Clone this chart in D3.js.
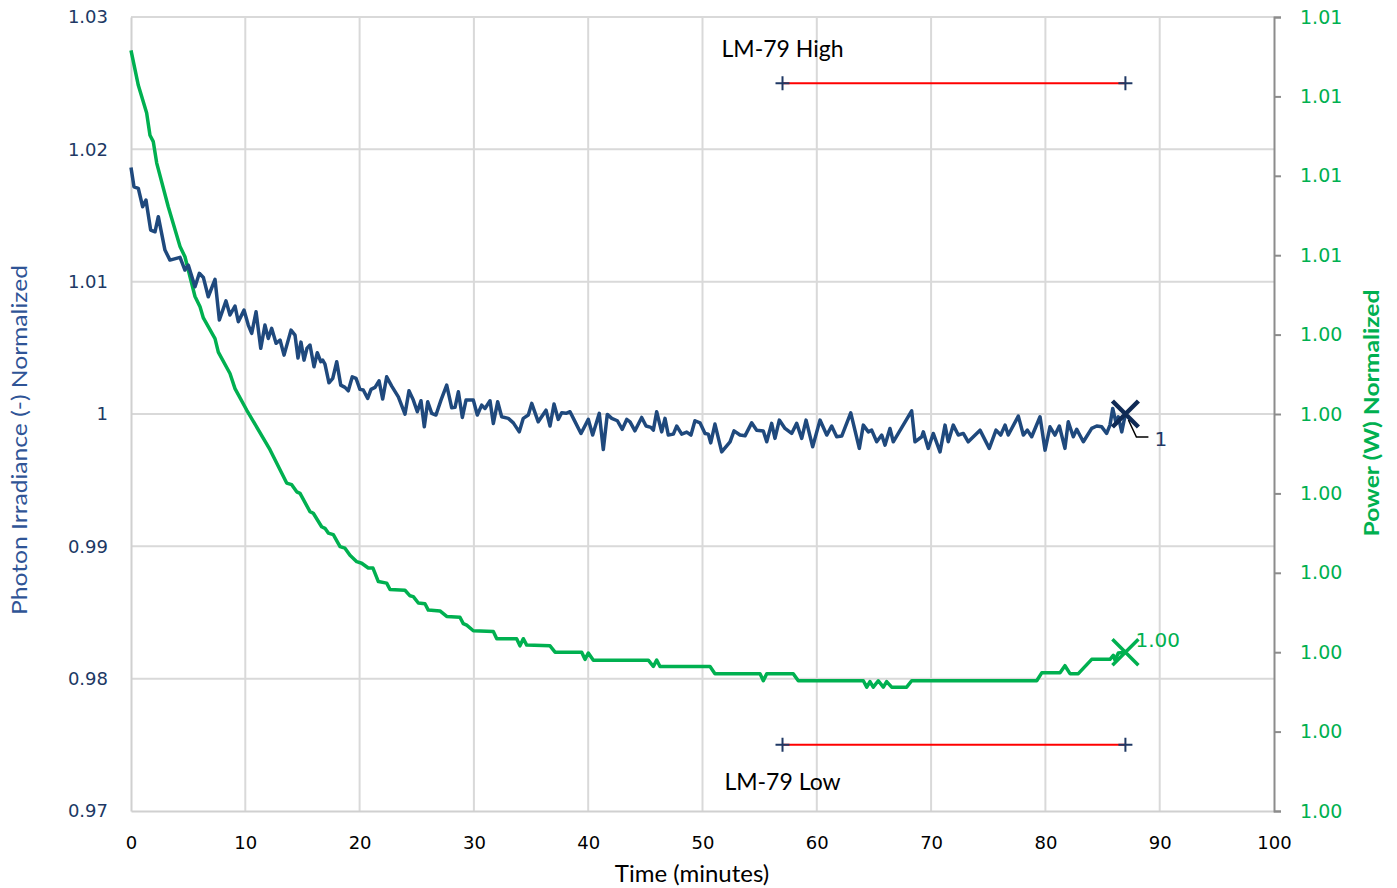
<!DOCTYPE html>
<html>
<head>
<meta charset="utf-8">
<script src="https://cdn.jsdelivr.net/npm/d3@7/dist/d3.min.js"></script>
<style>
    body { margin: 0; background: #ffffff; }
    #graphDiv { width: 1397px; height: 888px; }
</style>
</head>
<body>
<div id="graphDiv"></div>
<script>
// Photon irradiance (left axis) - time in minutes, value normalized
var blueTime = [0, 0.26, 0.64, 1.02, 1.31, 1.72, 2.10, 2.39, 2.97, 3.41,
    4.29, 4.72, 5.01, 5.60, 5.98, 6.33, 6.76, 7.35, 7.73, 8.31,
    8.66, 9.10, 9.39, 9.89, 10.26, 10.56, 10.94, 11.35, 11.72, 12.01,
    12.31, 12.69, 13.04, 13.39, 14.00, 14.35, 14.61, 14.87, 15.14, 15.40,
    15.66, 16.01, 16.30, 16.60, 16.77, 16.97, 17.32, 17.65, 18.00, 18.35,
    18.72, 19.01, 19.36, 19.69, 20.03, 20.32, 20.71, 21.00, 21.35, 21.70,
    22.02, 22.37, 22.81, 23.39, 23.97, 24.32, 24.70, 25.05, 25.37, 25.66,
    25.96, 26.31, 26.68, 27.12, 27.62, 28.06, 28.35, 28.64, 28.99, 29.31,
    29.95, 30.30, 30.68, 30.97, 31.41, 31.70, 32.08, 32.43, 33.01, 33.45,
    33.97, 34.32, 34.76, 35.06, 35.63, 36.31, 36.66, 37.01, 37.38, 37.68,
    38.06, 38.41, 38.78, 39.37, 40.01, 40.39, 40.97, 41.32, 41.67, 42.06,
    42.55, 42.98, 43.37, 43.66, 44.09, 44.68, 45.06, 45.49, 45.70, 45.99,
    46.43, 46.72, 47.01, 47.45, 47.74, 48.18, 48.62, 48.99, 49.34, 49.78,
    50.22, 50.51, 50.72, 51.09, 51.68, 52.41, 52.76, 53.28, 53.72, 54.30,
    54.74, 55.32, 55.62, 56.05, 56.34, 56.72, 57.22, 57.80, 58.24, 58.68,
    59.06, 59.64, 60.28, 60.87, 61.30, 61.74, 62.18, 62.97, 63.72, 64.07,
    64.51, 64.80, 65.24, 65.68, 65.97, 66.40, 66.69, 67.13, 68.30, 68.59,
    69.18, 69.32, 69.75, 70.19, 70.78, 71.22, 71.50, 71.94, 72.38, 72.82,
    73.25, 74.28, 75.09, 75.68, 76.09, 76.47, 76.75, 77.63, 78.07, 78.42,
    78.80, 79.53, 79.97, 80.40, 80.84, 81.22, 81.71, 82.00, 82.44, 82.74,
    83.32, 84.05, 84.49, 84.93, 85.36, 85.65, 85.89, 86.18, 86.38, 86.68,
    87];
var blueIrradiance = [1.01862, 1.01717, 1.01705, 1.01566, 1.01617, 1.01390, 1.01377, 1.01491, 1.01239, 1.01163,
    1.01184, 1.01088, 1.01125, 1.00961, 1.01063, 1.01032, 1.00886, 1.01017, 1.00710, 1.00855,
    1.00748, 1.00816, 1.00697, 1.00785, 1.00672, 1.00609, 1.00772, 1.00496, 1.00672, 1.00571,
    1.00647, 1.00534, 1.00559, 1.00445, 1.00634, 1.00596, 1.00423, 1.00543, 1.00407, 1.00498,
    1.00521, 1.00357, 1.00463, 1.00395, 1.00407, 1.00377, 1.00236, 1.00269, 1.00395, 1.00218,
    1.00201, 1.00175, 1.00281, 1.00269, 1.00186, 1.00181, 1.00118, 1.00186, 1.00201, 1.00251,
    1.00113, 1.00281, 1.00211, 1.00130, 0.99999, 1.00175, 1.00105, 1.00017, 1.00100, 0.99903,
    1.00092, 1.00005, 0.99992, 1.00105, 1.00218, 1.00047, 1.00050, 1.00168, 0.99974, 1.00105,
    1.00105, 0.99992, 1.00067, 1.00042, 1.00100, 0.99929, 1.00092, 0.99979, 0.99967, 0.99933,
    0.99865, 0.99967, 0.99992, 1.00080, 0.99941, 1.00029, 0.99909, 1.00075, 0.99959, 1.00009,
    1.00005, 1.00017, 0.99954, 0.99853, 0.99959, 0.99841, 1.00005, 0.99732, 0.99997, 0.99967,
    0.99949, 0.99884, 0.99959, 0.99941, 0.99873, 0.99974, 0.99909, 0.99899, 0.99878, 1.00017,
    0.99865, 0.99967, 0.99841, 0.99848, 0.99909, 0.99848, 0.99863, 0.99841, 0.99949, 0.99933,
    0.99853, 0.99848, 0.99782, 0.99924, 0.99714, 0.99790, 0.99873, 0.99841, 0.99835, 0.99933,
    0.99878, 0.99871, 0.99790, 0.99929, 0.99816, 0.99954, 0.99891, 0.99853, 0.99929, 0.99816,
    0.99954, 0.99752, 0.99954, 0.99841, 0.99909, 0.99828, 0.99833, 1.00009, 0.99740, 0.99916,
    0.99865, 0.99878, 0.99790, 0.99841, 0.99765, 0.99891, 0.99790, 0.99853, 1.00024, 0.99790,
    0.99828, 0.99865, 0.99740, 0.99853, 0.99714, 0.99916, 0.99790, 0.99916, 0.99841, 0.99853,
    0.99790, 0.99878, 0.99740, 0.99878, 0.99841, 0.99916, 0.99841, 0.99984, 0.99841, 0.99878,
    0.99828, 0.99979, 0.99727, 0.99903, 0.99841, 0.99909, 0.99740, 0.99941, 0.99828, 0.99884,
    0.99790, 0.99891, 0.99909, 0.99903, 0.99853, 0.99916, 1.00042, 0.99933, 0.99979, 0.99865,
    1.00000];

// Power (right axis)
var greenTime = [0, 0.64, 1.37, 1.66, 1.95, 2.25, 3.26, 4.29, 4.72, 5.60,
    6.04, 6.33, 7.35, 7.64, 8.66, 9.10, 10.12, 12.16, 13.62, 14.06,
    14.50, 14.79, 15.66, 15.95, 16.68, 16.97, 17.26, 17.70, 18.29, 18.72,
    19.16, 19.75, 20.18, 20.76, 21.17, 21.64, 22.37, 22.66, 23.97, 24.41,
    24.70, 25.14, 25.72, 26.01, 27.03, 27.62, 28.78, 29.07, 29.37, 29.95,
    31.70, 32.00, 33.74, 34.03, 34.32, 34.62, 36.66, 37.10, 39.43, 39.72,
    40.01, 40.45, 45.26, 45.70, 45.99, 46.28, 50.66, 51.09, 55.03, 55.32,
    55.62, 57.94, 58.38, 64.07, 64.37, 64.65, 64.94, 65.38, 65.82, 66.11,
    66.55, 67.86, 68.30, 79.24, 79.68, 81.28, 81.71, 82.15, 82.88, 84.05,
    85.65, 85.94, 86.09, 86.38, 87];
var greenPower = [1.00758, 1.00714, 1.00679, 1.00651, 1.00643, 1.00616, 1.00561, 1.00511, 1.00498, 1.00448,
    1.00435, 1.00421, 1.00395, 1.00378, 1.00351, 1.00332, 1.00305, 1.00255, 1.00213, 1.00211,
    1.00202, 1.00200, 1.00177, 1.00175, 1.00158, 1.00156, 1.00150, 1.00148, 1.00133, 1.00131,
    1.00122, 1.00114, 1.00112, 1.00106, 1.00106, 1.00089, 1.00087, 1.00079, 1.00078, 1.00071,
    1.00070, 1.00062, 1.00061, 1.00053, 1.00052, 1.00045, 1.00044, 1.00036, 1.00034, 1.00027,
    1.00026, 1.00017, 1.00017, 1.00008, 1.00017, 1.00009, 1.00008, 1.00000, 1.00000, 0.99991,
    0.99999, 0.99990, 0.99990, 0.99982, 0.99990, 0.99982, 0.99982, 0.99973, 0.99973, 0.99964,
    0.99973, 0.99973, 0.99964, 0.99964, 0.99956, 0.99963, 0.99956, 0.99964, 0.99956, 0.99963,
    0.99956, 0.99956, 0.99964, 0.99964, 0.99974, 0.99974, 0.99983, 0.99973, 0.99973, 0.99991,
    0.99991, 0.99996, 0.99990, 0.99999, 1.00000];

// LM-79 limits
var lm79Time = [57, 87];
var lm79High = [1.025, 1.025];
var lm79Low = [0.975, 0.975];

// last point labels
var lastTime = 87;
var lastIrradiance = 1;
var lastPower = 1.000;

// ticks
var xTicks = [0, 10, 20, 30, 40, 50, 60, 70, 80, 90, 100];
var leftTicks = [0.97, 0.98, 0.99, 1, 1.01, 1.02, 1.03];
var leftTickLabels = ['0.97', '0.98', '0.99', '1', '1.01', '1.02', '1.03'];
var rightTicks = [0.998, 0.999, 1.000, 1.001, 1.002, 1.003, 1.004, 1.005, 1.006, 1.007, 1.008];
var rightTickLabels = ['1.00', '1.00', '1.00', '1.00', '1.00', '1.00', '1.00', '1.01', '1.01', '1.01', '1.01'];

var BLUE = '#1f497d', GREEN = '#00b050', NAVY = '#1f3864';

var svg = d3.select('#graphDiv').append('svg')
    .attr('width', 1397)
    .attr('height', 888);

var pl = 131, pr = 1274, pt = 17, pb = 811;

var xScale = d3.scaleLinear().domain([0, 100]).range([pl, pr]);
var yLeft = d3.scaleLinear().domain([0.97, 1.03]).range([pb, pt]);
var yRight = d3.scaleLinear().domain([0.998, 1.008]).range([pb, pt]);

// gridlines
var grid = svg.append('g').attr('class', 'grid');
grid.selectAll('line.v')
    .data(xTicks.slice(1, -1))
    .enter().append('line')
    .attr('x1', function (d) { return xScale(d); })
    .attr('x2', function (d) { return xScale(d); })
    .attr('y1', pt).attr('y2', pb)
    .attr('stroke', '#d9d9d9').attr('stroke-width', 2);
grid.selectAll('line.h')
    .data(leftTicks.slice(1))
    .enter().append('line')
    .attr('x1', pl).attr('x2', pr)
    .attr('y1', function (d) { return yLeft(d); })
    .attr('y2', function (d) { return yLeft(d); })
    .attr('stroke', '#d9d9d9').attr('stroke-width', 2);

// axes
var xAxis = d3.axisBottom(xScale).tickValues(xTicks).tickSize(0).tickPadding(25).tickFormat(d3.format('d'));
var yAxisL = d3.axisLeft(yLeft).tickValues(leftTicks).tickSize(0).tickPadding(23)
    .tickFormat(function (d, i) { return leftTickLabels[i]; });
var yAxisR = d3.axisRight(yRight).tickValues(rightTicks).tickSize(7).tickPadding(19)
    .tickFormat(function (d, i) { return rightTickLabels[i]; });

var gx = svg.append('g').attr('transform', 'translate(0,' + pb + ')').call(xAxis);
var gl = svg.append('g').attr('transform', 'translate(' + pl + ',0)').call(yAxisL);
var gr = svg.append('g').attr('transform', 'translate(' + pr + ',0)').call(yAxisR);

gx.select('.domain').attr('stroke', '#d0d0d0').attr('stroke-width', 2);
gl.select('.domain').attr('stroke', '#d0d0d0').attr('stroke-width', 2);
gr.select('.domain').attr('stroke', '#8c8c8c').attr('stroke-width', 2);
gr.selectAll('.tick line').attr('stroke', '#8c8c8c').attr('stroke-width', 2);

gx.selectAll('text').attr('fill', '#000').style('font', '18px "DejaVu Sans"');
gl.selectAll('text').attr('fill', '#203864').style('font', '18px "DejaVu Sans"');
gr.selectAll('text').attr('fill', GREEN).style('font', '19px "DejaVu Sans"');

// axis titles
svg.append('text')
    .attr('x', 692).attr('y', 882)
    .attr('text-anchor', 'middle')
    .style('font', '24px Lato')
    .attr('fill', '#000')
    .text('Time (minutes)');

svg.append('text')
    .attr('transform', 'translate(27,440) rotate(-90)')
    .attr('text-anchor', 'middle')
    .attr('textLength', 350).attr('lengthAdjust', 'spacingAndGlyphs')
    .style('font', '21px Lato')
    .attr('fill', '#2f5496')
    .text('Photon Irradiance (-) Normalized');

svg.append('text')
    .attr('transform', 'translate(1379,413) rotate(-90)')
    .attr('text-anchor', 'middle')
    .attr('textLength', 247).attr('lengthAdjust', 'spacingAndGlyphs')
    .style('font', 'bold 21px Lato')
    .attr('fill', GREEN)
    .text('Power (W) Normalized');

// series lines
var blueLine = d3.line()
    .x(function (d, i) { return xScale(blueTime[i]); })
    .y(function (d) { return yLeft(d); });
var greenLine = d3.line()
    .x(function (d, i) { return xScale(greenTime[i]); })
    .y(function (d) { return yRight(d); });

svg.append('path')
    .attr('d', greenLine(greenPower))
    .attr('fill', 'none').attr('stroke', GREEN).attr('stroke-width', 3.5)
    .attr('stroke-linejoin', 'round');
svg.append('path')
    .attr('d', blueLine(blueIrradiance))
    .attr('fill', 'none').attr('stroke', BLUE).attr('stroke-width', 3.5)
    .attr('stroke-linejoin', 'round');

// LM-79 lines with + markers
var lmLine = d3.line()
    .x(function (d, i) { return xScale(lm79Time[i]); })
    .y(function (d) { return yLeft(d); });

[[lm79High, 'LM-79 High', -26], [lm79Low, 'LM-79 Low', 45]].forEach(function (s) {
    var g = svg.append('g');
    g.append('path')
        .attr('d', lmLine(s[0]))
        .attr('fill', 'none').attr('stroke', '#ff0000').attr('stroke-width', 2);
    g.selectAll('path.plus')
        .data(s[0])
        .enter().append('path')
        .attr('transform', function (d, i) { return 'translate(' + xScale(lm79Time[i]) + ',' + yLeft(d) + ')'; })
        .attr('d', 'M-7,0H7M0,-7V7')
        .attr('stroke', NAVY).attr('stroke-width', 2);
    g.append('text')
        .attr('x', xScale(lm79Time[0]))
        .attr('y', yLeft(s[0][0]) + s[2])
        .attr('text-anchor', 'middle')
        .style('font', '23px Lato')
        .attr('fill', '#000')
        .text(s[1]);
});

// end markers (X) and labels
var bx = xScale(lastTime), by = yLeft(lastIrradiance);
svg.append('path')
    .attr('transform', 'translate(' + bx + ',' + by + ')')
    .attr('d', 'M-13,-13L13,13M-13,13L13,-13')
    .attr('stroke', '#0f2a55').attr('stroke-width', 4.5);
svg.append('path')
    .attr('transform', 'translate(' + bx + ',' + by + ')')
    .attr('d', 'M3,6L11,23H23')
    .attr('fill', 'none').attr('stroke', '#000').attr('stroke-width', 1.5);
svg.append('text')
    .attr('x', bx + 29).attr('y', by + 32)
    .style('font', '20px "DejaVu Sans"')
    .attr('fill', NAVY)
    .text(lastIrradiance);

var gxp = xScale(lastTime), gyp = yRight(lastPower);
svg.append('path')
    .attr('transform', 'translate(' + gxp + ',' + gyp + ')')
    .attr('d', 'M-13,-13L13,13M-13,13L13,-13')
    .attr('stroke', GREEN).attr('stroke-width', 3.5);
svg.append('text')
    .attr('x', gxp + 10).attr('y', gyp - 5)
    .style('font', '20px "DejaVu Sans"')
    .attr('fill', GREEN)
    .text(lastPower.toFixed(2));
</script>
</body>
</html>
